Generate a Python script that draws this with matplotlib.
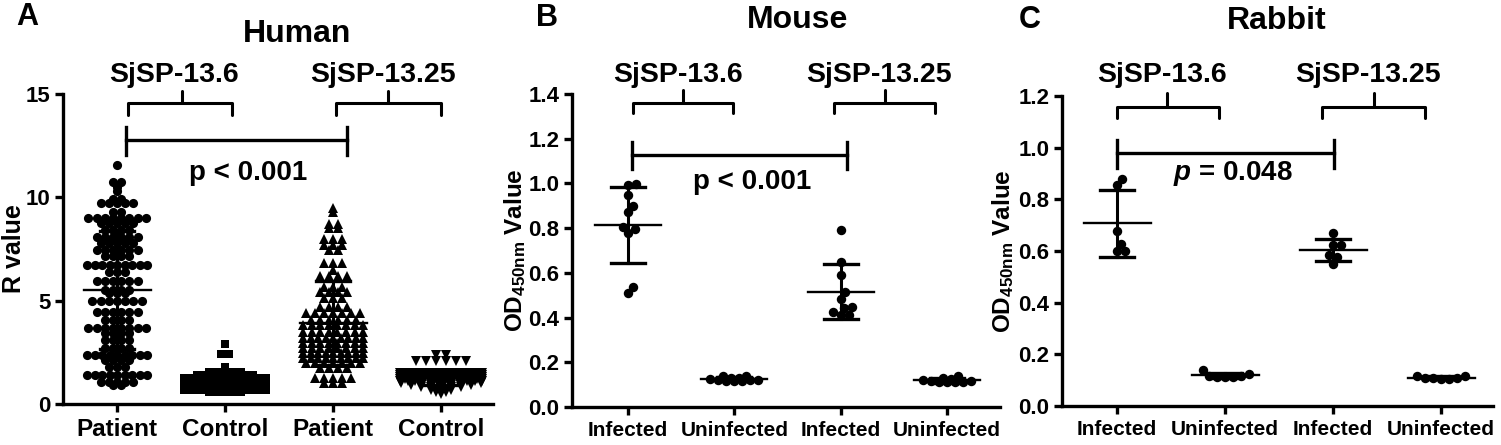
import numpy as np
import matplotlib
matplotlib.use('Agg')
import matplotlib.pyplot as plt

plt.rcParams['font.family'] = ['Liberation Sans', 'DejaVu Sans']
plt.rcParams['font.weight'] = 'bold'
plt.rcParams['axes.labelweight'] = 'bold'
plt.rcParams['mathtext.fontset'] = 'custom'
plt.rcParams['mathtext.rm'] = 'Liberation Sans:bold'
plt.rcParams['mathtext.it'] = 'Liberation Sans:italic:bold'
plt.rcParams['mathtext.bf'] = 'Liberation Sans:bold'

# ---- data ----
# Human: R values, given as row levels and number of dots in each row
human_labels = ['Patient', 'Control', 'Patient', 'Control']
pat136_lv = [11.55, 10.72, 10.48, 10.32, 9.93, 9.72, 9.3, 9.0, 8.75, 8.4, 8.1, 7.8, 7.46, 7.17,
             6.73, 6.41, 5.93, 5.52, 5.36, 4.96, 4.47, 4.07, 3.67, 3.42, 3.1, 2.7, 2.37, 2.13,
             1.81, 1.4, 1.08, 0.92]
pat136_n = [1, 2, 1, 1, 2, 5, 2, 8, 5, 4, 6, 5, 6, 4, 9, 3, 6, 4, 3, 7, 6, 4, 8, 4, 4, 4, 9, 4,
            3, 9, 5, 2]
con136_lv = [2.9, 2.4, 1.8, 1.55, 1.4, 1.25, 1.1, 1.0, 0.9, 0.8, 0.7, 0.6]
con136_n = [1, 2, 1, 5, 8, 14, 22, 28, 28, 22, 12, 5]
pat1325_lv = [9.48, 9.27, 8.7, 8.5, 8.0, 7.7, 7.46, 6.8, 6.5, 6.17, 5.68, 5.44, 5.12, 4.7, 4.39,
              4.07, 3.83, 3.5, 3.18, 2.94, 2.7, 2.45, 2.21, 1.97, 1.73, 1.24, 1.0]
pat1325_n = [1, 1, 2, 2, 3, 3, 2, 3, 1, 4, 3, 4, 3, 4, 7, 6, 8, 8, 9, 8, 8, 9, 9, 7, 4, 5, 3]
con1325_lv = [2.35, 2.1, 1.5, 1.4, 1.3, 1.2, 1.1, 1.0, 0.9, 0.8, 0.7, 0.6, 0.5]
con1325_n = [2, 6, 14, 24, 24, 18, 12, 9, 7, 5, 3, 2, 1]

# Mouse: OD450nm
animal_labels = ['Infected', 'Uninfected', 'Infected', 'Uninfected']
mouse_inf136 = [0.993, 0.997, 0.948, 0.899, 0.872, 0.796, 0.805, 0.778, 0.537, 0.51]
mouse_uninf136 = [0.14, 0.138, 0.13, 0.128, 0.125, 0.123, 0.12, 0.12, 0.118, 0.115, 0.115]
mouse_inf1325 = [0.792, 0.648, 0.59, 0.514, 0.483, 0.447, 0.443, 0.425, 0.411, 0.411]
mouse_uninf1325 = [0.14, 0.13, 0.125, 0.12, 0.118, 0.115, 0.113, 0.112, 0.11, 0.11]

# Rabbit: OD450nm
rabbit_inf136 = [0.856, 0.879, 0.678, 0.627, 0.60, 0.60]
rabbit_uninf136 = [0.138, 0.122, 0.118, 0.115, 0.113, 0.112, 0.112]
rabbit_inf1325 = [0.67, 0.623, 0.623, 0.585, 0.577, 0.55]
rabbit_uninf1325 = [0.117, 0.115, 0.11, 0.108, 0.107, 0.106, 0.105]


def swarm(ypx, d, cap):
    # beeswarm offsets in pixels, dots squeezed inside +-cap
    ypx = np.asarray(ypx, float)
    xs = np.zeros(len(ypx))
    px, py = [], []
    grid = np.linspace(-cap, cap, 61)
    for i in np.argsort(ypx, kind='stable'):
        y = ypx[i]
        P = np.array(px)
        Q = np.array(py)
        if len(P):
            m = np.abs(Q - y) < d
            P, Q = P[m], Q[m]
        x = 0.0
        if len(P):
            dx = np.sqrt(d * d - (Q - y) ** 2)
            c = np.concatenate([[0.0], P + dx, P - dx])
            c = c[np.abs(c) <= cap + 1e-9]
            c = c[np.argsort(np.abs(c), kind='stable')]
            ok = np.all((c[:, None] - P[None, :]) ** 2 + (y - Q[None, :]) ** 2 >= d * d - 1e-6, axis=1)
            if ok.any():
                x = c[np.argmax(ok)]
            else:
                dist = np.min((grid[:, None] - P[None, :]) ** 2 + (y - Q[None, :]) ** 2, axis=1)
                x = grid[np.argmax(dist - 1e-4 * np.abs(grid))]
        xs[i] = x
        px.append(x)
        py.append(y)
    return xs


def px_scale(ax):
    p0 = ax.transData.transform((0, 0))
    p1 = ax.transData.transform((1, 1))
    return p1[0] - p0[0], p1[1] - p0[1]


def mean_sd(ax, xpos, vals):
    m = vals.mean()
    s = vals.std(ddof=1)
    ax.plot([xpos - 0.31, xpos + 0.31], [m, m], color='black', lw=1.7, zorder=4)
    ax.plot([xpos, xpos], [m - s, m + s], color='black', lw=2.2, zorder=4)
    for yy in (m - s, m + s):
        ax.plot([xpos - 0.16, xpos + 0.16], [yy, yy], color='black', lw=2.4, zorder=4)


def draw_group(ax, xpos, vals, marker, ms, cap_px, d_px=8.0):
    # few dots: beeswarm
    vals = np.asarray(vals, float)
    sx, sy = px_scale(ax)
    off = swarm(vals * sy, d_px, cap_px) / sx
    ax.plot(xpos + off, vals, ls='none', marker=marker, ms=ms, color='black',
            markeredgewidth=0, zorder=3, clip_on=False)
    mean_sd(ax, xpos, vals)


def draw_rows(ax, xpos, levels, counts, marker, ms, cap_px, d_px):
    # many dots: each level is one row, squeezed into +-cap
    sx, sy = px_scale(ax)
    xs, ys = [], []
    for lv, n in zip(levels, counts):
        step = d_px if n < 2 else min(d_px, 2 * cap_px / (n - 1))
        for i in range(n):
            xs.append(xpos + (i - (n - 1) / 2) * step / sx)
            ys.append(lv)
    ax.plot(xs, ys, ls='none', marker=marker, ms=ms, color='black',
            markeredgewidth=0, zorder=3, clip_on=False)
    mean_sd(ax, xpos, np.repeat(levels, counts).astype(float))


def bracket(ax, x0, x1, xc, y, ylow, ytop, label, ylab, fs):
    kw = dict(color='black', lw=2.2, clip_on=False, solid_capstyle='round', solid_joinstyle='round')
    ax.plot([x0, x0, x1, x1], [ylow, y, y, ylow], **kw)
    ax.plot([xc, xc], [y, ytop], **kw)
    ax.text((x0 + x1) / 2 - 0.05, ylab, label, ha='center', va='center', fontsize=fs)


def style_axes(ax, xlim, ylim, yticks, yfmt, labels, lab_fs, ylabel, ylab_x, ylab_fs):
    ax.set_xlim(*xlim)
    ax.set_ylim(*ylim)
    for sp in ('top', 'right'):
        ax.spines[sp].set_visible(False)
    for sp in ('left', 'bottom'):
        ax.spines[sp].set_linewidth(2.4)
    ax.set_yticks(yticks)
    ax.set_yticklabels([yfmt.format(t) for t in yticks], fontsize=16)
    ax.set_xticks(range(4))
    ax.set_xticklabels(labels, fontsize=lab_fs)
    ax.tick_params(axis='both', direction='out', length=6, width=2.4, pad=3)
    ax.tick_params(axis='x', pad=4)
    ax.set_ylabel(ylabel, fontsize=ylab_fs, va='center')
    ax.yaxis.set_label_coords(ylab_x, 0.5)


fig = plt.figure(figsize=(15.01, 4.45), dpi=100)
axA = fig.add_axes([0.04197, 0.09213, 0.28648, 0.69663])
axB = fig.add_axes([0.38108, 0.08539, 0.28514, 0.70337])
axC = fig.add_axes([0.70753, 0.08764, 0.28714, 0.69663])

# ---- A: Human ----
style_axes(axA, (-0.5, 3.48), (0, 15), [0, 5, 10, 15], '{:g}', human_labels, 17.5, 'R value',
           -0.115, 18)
draw_rows(axA, 0, pat136_lv, pat136_n, 'o', 6.6, 30, 8.2)
draw_rows(axA, 1, con136_lv, con136_n, 's', 5.6, 41, 8.0)
draw_rows(axA, 2, pat1325_lv, pat1325_n, '^', 7.4, 30, 9.0)
draw_rows(axA, 3, con1325_lv, con1325_n, 'v', 7.4, 41, 10.0)
bracket(axA, 0.10, 1.06, 0.60, 14.56, 13.98, 15.14, 'SjSP-13.6', 15.9, 20.5)
bracket(axA, 2.03, 3.0, 2.51, 14.56, 13.98, 15.14, 'SjSP-13.25', 15.9, 20.5)
kw = dict(color='black', lw=2.4, clip_on=False)
axA.plot([0.08, 2.13], [12.77, 12.77], **kw)
axA.plot([0.08, 0.08], [12.05, 13.4], **kw)
axA.plot([2.13, 2.13], [12.05, 13.4], **kw)
axA.text(1.21, 11.2, 'p < 0.001', ha='center', va='center', fontsize=20)
axA.text(1.67, 17.9, 'Human', ha='center', va='center', fontsize=23)

# ---- B: Mouse ----
style_axes(axB, (-0.527, 3.5), (0, 1.4), np.arange(0, 1.41, 0.2), '{:.1f}', animal_labels, 15,
           r'OD$_{\mathdefault{450nm}}$ Value', -0.132, 17.5)
draw_group(axB, 0, mouse_inf136, 'o', 6.8, 40)
draw_group(axB, 1, mouse_uninf136, 'o', 6.8, 26)
draw_group(axB, 2, mouse_inf1325, 'o', 6.8, 40)
draw_group(axB, 3, mouse_uninf1325, 'o', 6.8, 26)
bracket(axB, 0.05, 0.99, 0.52, 1.36, 1.315, 1.42, 'SjSP-13.6', 1.485, 20.5)
bracket(axB, 1.94, 2.89, 2.42, 1.36, 1.315, 1.42, 'SjSP-13.25', 1.485, 20.5)
axB.plot([0.04, 2.06], [1.127, 1.127], **kw)
axB.plot([0.04, 0.04], [1.064, 1.185], **kw)
axB.plot([2.06, 2.06], [1.064, 1.185], **kw)
axB.text(1.17, 1.006, 'p < 0.001', ha='center', va='center', fontsize=20)
axB.text(1.6, 1.73, 'Mouse', ha='center', va='center', fontsize=23)

# ---- C: Rabbit ----
style_axes(axC, (-0.51, 3.48), (0, 1.2), np.arange(0, 1.21, 0.2), '{:.1f}', animal_labels, 15,
           r'OD$_{\mathdefault{450nm}}$ Value', -0.137, 17.5)
draw_group(axC, 0, rabbit_inf136, 'o', 6.8, 40)
draw_group(axC, 1, rabbit_uninf136, 'o', 6.8, 30)
draw_group(axC, 2, rabbit_inf1325, 'o', 6.8, 40)
draw_group(axC, 3, rabbit_uninf1325, 'o', 6.8, 30)
bracket(axC, 0.0, 0.94, 0.46, 1.158, 1.115, 1.21, 'SjSP-13.6', 1.28, 20.5)
bracket(axC, 1.9, 2.85, 2.38, 1.158, 1.115, 1.21, 'SjSP-13.25', 1.28, 20.5)
axC.plot([0.0, 2.01], [0.98, 0.98], **kw)
axC.plot([0.0, 0.0], [0.92, 1.03], **kw)
axC.plot([2.01, 2.01], [0.92, 1.03], **kw)
axC.text(1.07, 0.90, '$p$ = 0.048', ha='center', va='center', fontsize=20)
axC.text(1.48, 1.49, 'Rabbit', ha='center', va='center', fontsize=23)

for letter, xp, yp in (('A', 27, 17), ('B', 547, 18), ('C', 1030, 20)):
    fig.text(xp / 1501, 1 - yp / 445, letter, ha='center', va='center', fontsize=22)

fig.savefig('out.png', dpi=100)
